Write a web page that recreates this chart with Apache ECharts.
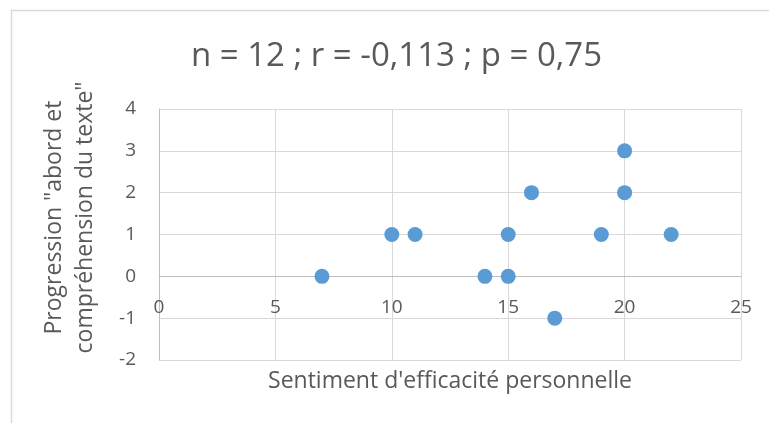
<!DOCTYPE html>
<html><head><meta charset="utf-8">
<script src="https://cdn.jsdelivr.net/npm/echarts@6/dist/echarts.min.js"></script>
<style>html,body{margin:0;padding:0;background:#fff}#c{width:769px;height:423px}</style>
</head><body><div id="c"></div>
<script>
const xValues = [7, 10, 11, 14, 15, 15, 16, 17, 19, 20, 20, 22];
const yValues = [0, 1, 1, 0, 1, 0, 2, -1, 1, 3, 2, 1];
const titleText = 'n = 12 ; r = -0,113 ; p = 0,75';
const xName = "Sentiment d'efficacité personnelle";
const yName = 'Progression "abord et\ncompréhension du texte"';

const FONT = 'Open Sans';
const TXT = '#595959';
const chart = echarts.init(document.getElementById('c'));
chart.setOption({
  animation: false,
  backgroundColor: '#fff',
  textStyle: {fontFamily: FONT},
  title: {text: titleText, left: 186, top: 35,
    textStyle: {fontFamily: FONT, fontSize: 33, fontWeight: 'normal', color: TXT}},
  graphic: [{type: 'rect', shape: {x: 11.5, y: 10.5, width: 800, height: 500},
    style: {fill: 'none', stroke: '#d9d9d9', lineWidth: 1.5}, silent: true}],
  grid: {left: 159, right: 28, top: 109, bottom: 63, containLabel: false, outerBoundsMode: 'none'},
  xAxis: {type: 'value', min: 0, max: 25, interval: 5,
    name: xName, nameLocation: 'middle', nameGap: 10,
    nameTextStyle: {fontFamily: FONT, fontSize: 23, color: TXT},
    axisLine: {onZero: true, lineStyle: {color: '#bfbfbf', width: 1}},
    axisTick: {show: false},
    axisLabel: {margin: -62, fontSize: 19, color: TXT, fontFamily: FONT},
    splitLine: {show: true, lineStyle: {color: '#d9d9d9', width: 1}}},
  yAxis: {type: 'value', min: -2, max: 4, interval: 1,
    name: yName, nameLocation: 'middle', nameGap: 58, nameRotate: 90,
    nameTextStyle: {fontFamily: FONT, fontSize: 23, color: TXT, lineHeight: 31, padding: [0,0,0,34]},
    axisLine: {show: true, lineStyle: {color: '#bfbfbf', width: 1}},
    axisTick: {show: false},
    axisLabel: {margin: 23, fontSize: 19, color: TXT, fontFamily: FONT},
    splitLine: {show: true, lineStyle: {color: '#d9d9d9', width: 1}}},
  series: [{type: 'scatter', symbolSize: 15,
    itemStyle: {color: '#5b9bd5', opacity: 1},
    data: xValues.map((x, i) => [x, yValues[i]])}]
});
</script></body></html>
